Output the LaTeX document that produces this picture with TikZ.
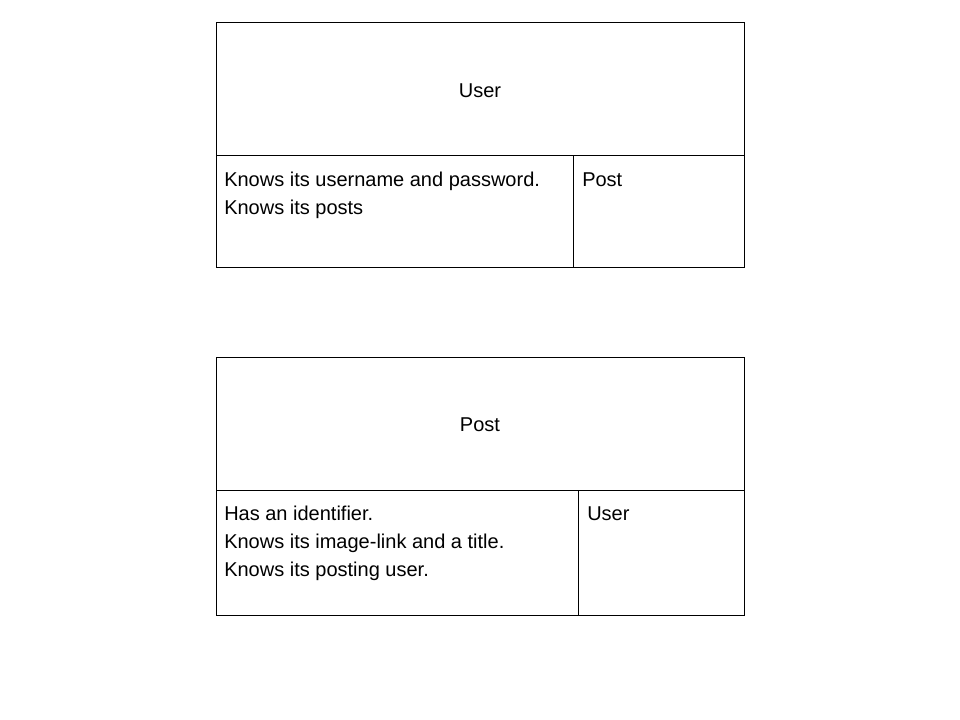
\documentclass[tikz,border=0pt]{standalone}
\usepackage{fontspec}
\setmainfont{Liberation Sans}
\usetikzlibrary{positioning}

\begin{document}
\begin{tikzpicture}[x=0.75pt,y=-0.75pt,
  font=\fontsize{15}{21}\selectfont,
  cell/.style={draw, line width=0.75pt, inner sep=0pt, outer sep=0pt, anchor=north west},
  celltext/.style={inner sep=0pt, align=left}]

  \useasboundingbox (0,0) rectangle (960,720);

  % User card
  \node[cell, minimum width=396pt, minimum height=99.75pt] (user_head) at (216,23) {};
  \node[yshift=-0.75pt] at (user_head.center) {User};
  \node[cell, minimum width=267.75pt, minimum height=84pt, at=(user_head.south west)] (user_resp) {};
  \node[cell, minimum width=128.25pt, minimum height=84pt, at=(user_resp.north east)] (user_collab) {};

  \node[celltext, below right = 12pt and 6pt of user_resp.north west] (user_resp_txt)
    {Knows its username and password.\\Knows its posts};
  \node[celltext, below right = 12pt and 6.75pt of user_collab.north west] (user_collab_txt) {Post};

  % Post card
  \node[cell, minimum width=396pt, minimum height=99.75pt] (post_head) at (216,357) {};
  \node[yshift=-0.75pt] at (post_head.center) {Post};
  \node[cell, minimum width=271.5pt, minimum height=93.75pt, at=(post_head.south west)] (post_resp) {};
  \node[cell, minimum width=124.5pt, minimum height=93.75pt, at=(post_resp.north east)] (post_collab) {};

  \node[celltext, below right = 12pt and 6pt of post_resp.north west] (post_resp_txt)
    {Has an identifier.\\Knows its image-link and a title.\\Knows its posting user.};
  \node[celltext, below right = 12pt and 6.75pt of post_collab.north west] (post_collab_txt) {User};
\end{tikzpicture}
\end{document}
